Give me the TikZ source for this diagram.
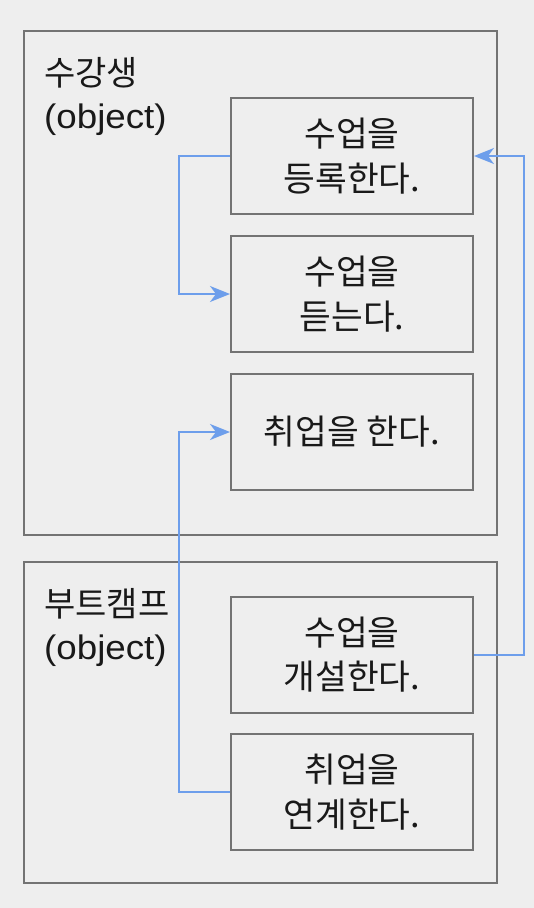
\documentclass[tikz,border=0pt]{standalone}
\usepackage{fontspec}
\setmainfont{Liberation Sans}
\newfontfamily\kr{Noto Sans CJK KR}
\newfontfamily\lat[FakeStretch=1.08]{Liberation Sans}
\usetikzlibrary{arrows.meta}
\definecolor{bgc}{HTML}{EEEEEE}
\definecolor{edgec}{HTML}{737373}
\definecolor{connc}{HTML}{6D9EEB}
\tikzset{
  outerbox/.style={draw=edgec, line width=2pt, minimum width=473pt, inner sep=0pt},
  actbox/.style={draw=edgec, line width=2pt, minimum width=242pt, minimum height=116pt,
    inner sep=0pt, align=center, font=\kr\fontsize{34.5}{44.5}\selectfont, text=black!90},
  objlabel/.style={anchor=north west, align=left, inner sep=0pt, text=black!90,
    font=\fontsize{34}{43}\selectfont},
  flow/.style={draw=connc, line width=2pt, line join=miter,
    -{Stealth[length=20pt,width=16pt,inset=6pt]}}
}
\begin{document}
\begin{tikzpicture}[x=1pt,y=-1pt]
\fill[bgc] (0,0) rectangle (534,908);
\useasboundingbox (0,0) rectangle (534,908);
% outer object boxes
\node[outerbox, minimum height=504pt] (stu) at (260.5,283) {};
\node[outerbox, minimum height=321pt] (camp) at (260.5,722.5) {};
% object labels
\node[objlabel] (stulabel) at (44,57) {{\kr 수강생}\\{\lat (object)}};
\node[objlabel] (camplabel) at (44,588) {{\kr 부트캠프}\\{\lat (object)}};
% behaviour boxes
\node[actbox] (b1) at (352,156) {수업을\\등록한다.};
\node[actbox] (b2) at (352,294) {수업을\\듣는다.};
\node[actbox] (b3) at (352,432) {취업을 한다.};
\node[actbox] (b4) at (352,654.5) {수업을\\개설한다.};
\node[actbox] (b5) at (352,792) {취업을\\연계한다.};
% connectors
\draw[flow] (b1.west) -- ++(-51,0) |- (b2.west);
\draw[flow] (b5.west) -- ++(-51,0) |- (b3.west);
\draw[flow] (b4.east) -- ++(50,0) |- (b1.east);
\end{tikzpicture}
\end{document}
